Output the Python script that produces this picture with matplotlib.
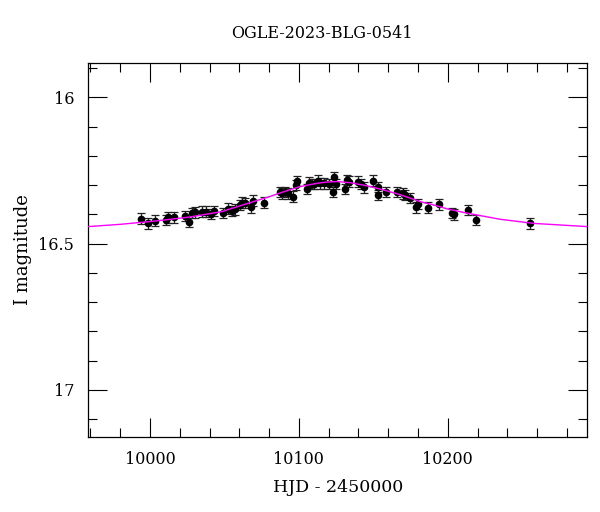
import numpy as np
import matplotlib
matplotlib.use("Agg")
import matplotlib.pyplot as plt
from matplotlib.ticker import MultipleLocator

plt.rcParams['font.family'] = ['DejaVu Serif']

# photometry (HJD - 2450000, I mag, error)
hjd = [9993.8, 9998.9, 10003.2, 10011.0, 10012.1, 10016.1, 10023.3, 10026.0,
       10028.2, 10030.4, 10035.1, 10037.8, 10041.2, 10043.0, 10049.1, 10052.4,
       10055.1, 10057.3, 10060.3, 10061.8, 10063.6, 10068.1, 10069.2, 10076.8,
       10087.4, 10088.5, 10090.7, 10092.9, 10095.9, 10098.1, 10098.6, 10105.7,
       10107.1, 10108.7, 10110.4, 10113.1, 10114.2, 10116.9, 10120.5, 10122.8,
       10123.7, 10124.8, 10130.8, 10132.2, 10133.9, 10139.6, 10141.6, 10143.8,
       10149.7, 10153.4, 10153.4, 10158.6, 10165.8, 10169.8, 10171.4, 10174.7,
       10178.8, 10180.3, 10187.0, 10193.8, 10202.8, 10204.3, 10213.5, 10218.9,
       10255.4]
mag = [16.415, 16.431, 16.422, 16.419, 16.410, 16.410, 16.406, 16.425,
       16.396, 16.393, 16.391, 16.391, 16.399, 16.389, 16.396, 16.381,
       16.388, 16.383, 16.368, 16.360, 16.362, 16.376, 16.353, 16.360,
       16.323, 16.328, 16.323, 16.328, 16.340, 16.300, 16.286, 16.314,
       16.292, 16.296, 16.296, 16.285, 16.294, 16.294, 16.296, 16.323,
       16.273, 16.296, 16.314, 16.283, 16.288, 16.288, 16.296, 16.308,
       16.285, 16.306, 16.334, 16.323, 16.323, 16.328, 16.334, 16.345,
       16.376, 16.365, 16.377, 16.366, 16.396, 16.400, 16.385, 16.419,
       16.431]
err = [0.018] * len(hjd)

# model curve
model_t = [9958.3, 9980.5, 10003.2, 10025.5, 10047.9, 10067.2, 10080.0,
           10089.6, 10100.0, 10112.0, 10118.0, 10125.5, 10134.4, 10145.0,
           10156.8, 10168.0, 10181.5, 10190.4, 10200.0, 10212.8, 10235.2,
           10257.6, 10293.7]
model_m = [16.442, 16.434, 16.423, 16.410, 16.391, 16.360, 16.340,
           16.323, 16.306, 16.294, 16.290, 16.288, 16.292, 16.302,
           16.317, 16.333, 16.357, 16.368, 16.382, 16.396, 16.417,
           16.431, 16.442]

fig = plt.figure(figsize=(6, 5.12), dpi=100)
ax = fig.add_axes([0.147, 0.147, 0.832, 0.7305])

ax.errorbar(hjd, mag, yerr=err, fmt='o', color='black', ms=4.5,
            elinewidth=0.9, capsize=3, capthick=0.9, ecolor='#222222', zorder=2)
ax.plot(model_t, model_m, color='magenta', lw=1.0, zorder=3)

ax.set_xlim(9958.5, 10293.8)
ax.set_ylim(17.16, 15.882)
ax.xaxis.set_major_locator(MultipleLocator(100))
ax.xaxis.set_minor_locator(MultipleLocator(20))
ax.yaxis.set_major_locator(MultipleLocator(0.5))
ax.yaxis.set_minor_locator(MultipleLocator(0.1))
ax.yaxis.set_major_formatter(matplotlib.ticker.FuncFormatter(lambda v, p: f"{v:g}"))
ax.tick_params(which='both', direction='in', top=True, right=True,
               labelsize=11.5, width=0.8)
ax.tick_params(which='major', length=13.5, pad=10)
ax.tick_params(which='minor', length=6.8)
for s in ax.spines.values():
    s.set_linewidth(0.9)

fig.text(0.537, 0.934, "OGLE-2023-BLG-0541", fontsize=11.5, ha='center', va='center')
ax.set_xlabel("HJD - 2450000", fontsize=12.5)
ax.xaxis.set_label_coords(0.5, -0.1345)
ax.xaxis.label.set_va('center')
ax.set_ylabel("I magnitude", fontsize=13)
ax.yaxis.set_label_coords(-0.131, 0.5)
ax.yaxis.label.set_va('center')

fig.savefig("out.png", dpi=100)
